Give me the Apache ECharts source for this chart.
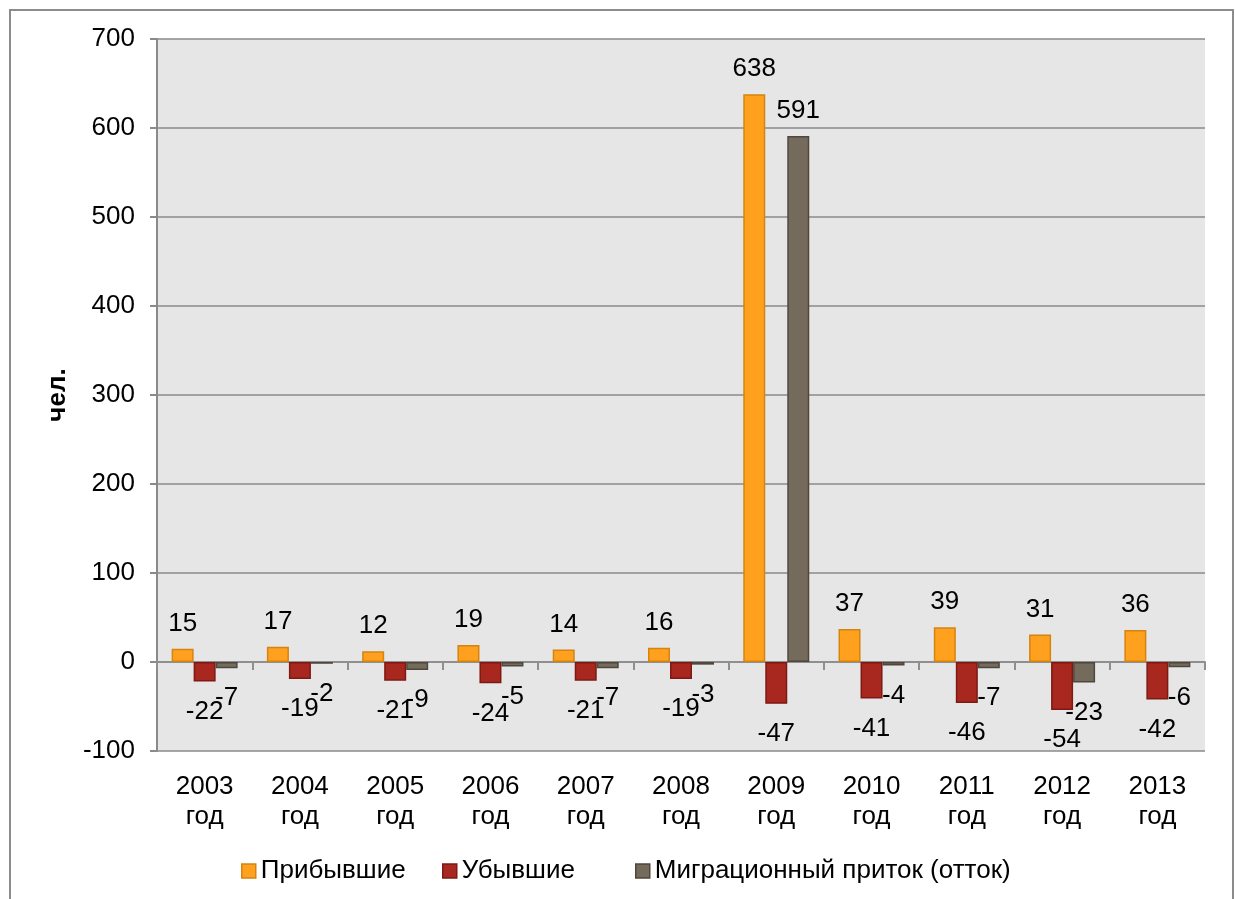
<!DOCTYPE html>
<html>
<head>
<meta charset="utf-8">
<script src="https://cdn.jsdelivr.net/npm/echarts@6/dist/echarts.min.js"></script>
<style>
html,body{margin:0;padding:0;background:#fff;overflow:hidden;}
#frame{position:absolute;left:9px;top:9px;width:1221px;height:1000px;border:2px solid #8c8c8c;box-sizing:content-box;}
#chart{position:absolute;left:0;top:0;width:1235px;height:899px;}
</style>
</head>
<body>
<div id="frame"></div>
<div id="chart"></div>
<script>
const categories = ['2003\nгод','2004\nгод','2005\nгод','2006\nгод','2007\nгод','2008\nгод','2009\nгод','2010\nгод','2011\nгод','2012\nгод','2013\nгод'];
const arrived = [15, 17, 12, 19, 14, 16, 638, 37, 39, 31, 36];
const departed = [-22, -19, -21, -24, -21, -19, -47, -41, -46, -54, -42];
const migration = [-7, -2, -9, -5, -7, -3, 591, -4, -7, -23, -6];
const seriesNames = ['Прибывшие', 'Убывшие', 'Миграционный приток (отток)'];
const yTicks = {min: -100, max: 700, interval: 100};

const FONT = 'Liberation Sans, Arial, sans-serif';
const FS = 26;

function withLabels(arr) {
  return arr.map(v => ({
    value: v,
    label: {position: v >= 0 ? 'top' : 'bottom', distance: v >= 0 ? 12 : 17}
  }));
}

const styles = [
  {color: '#FFA11F', borderColor: '#D4840F'},
  {color: '#A8271E', borderColor: '#7C1A13'},
  {color: '#756B5D', borderColor: '#4F473D'}
];
const legendLefts = [236, 437, 630];

const chart = echarts.init(document.getElementById('chart'), null, {renderer: 'canvas'});
const series = [arrived, departed, migration].map((arr, i) => ({
  name: seriesNames[i],
  type: 'bar',
  xAxisIndex: 0,
  barWidth: 22,
  barGap: '0%',
  itemStyle: {color: styles[i].color, borderColor: styles[i].borderColor, borderWidth: 1.5},
  label: {show: true, color: '#000', fontSize: FS, fontFamily: FONT},
  data: withLabels(arr)
}));

chart.setOption({
  animation: false,
  textStyle: {fontFamily: FONT},
  grid: {left: 157, right: 30, top: 39, bottom: 148, show: true, backgroundColor: '#e6e6e6', borderWidth: 0},
  legend: seriesNames.map((n, i) => ({
    left: legendLefts[i], top: 853,
    itemWidth: 14, itemHeight: 14, itemTextGap: 5,
    textStyle: {fontSize: FS, color: '#000', fontFamily: FONT},
    data: [{name: n, icon: 'rect', itemStyle: {color: styles[i].color, borderColor: styles[i].borderColor, borderWidth: 1.5}}]
  })),
  xAxis: [
    {
      type: 'category', data: categories, position: 'bottom',
      axisLine: {show: false, onZero: false}, axisTick: {show: false},
      axisLabel: {fontSize: FS, color: '#000', lineHeight: 30, margin: 21, fontFamily: FONT, interval: 0}
    },
    {
      type: 'category', data: categories, position: 'top',
      axisLine: {show: true, onZero: true, lineStyle: {color: '#8f8f8f', width: 2}},
      axisTick: {show: true, inside: true, length: 8, lineStyle: {color: '#8f8f8f', width: 2}},
      axisLabel: {show: false}, splitLine: {show: false}
    }
  ],
  yAxis: {
    type: 'value', min: yTicks.min, max: yTicks.max, interval: yTicks.interval,
    name: 'чел.', nameLocation: 'middle', nameRotate: 90, nameGap: 86,
    nameTextStyle: {fontSize: FS, fontWeight: 'bold', color: '#000', fontFamily: FONT},
    axisLine: {show: true, lineStyle: {color: '#8a8a8a', width: 2}},
    axisTick: {show: true, length: 7, lineStyle: {color: '#8a8a8a', width: 2}},
    axisLabel: {fontSize: FS, color: '#000', margin: 22, fontFamily: FONT},
    splitLine: {show: true, lineStyle: {color: '#8a8a8a', width: 1.5}}
  },
  series: series
});
</script>
</body>
</html>
